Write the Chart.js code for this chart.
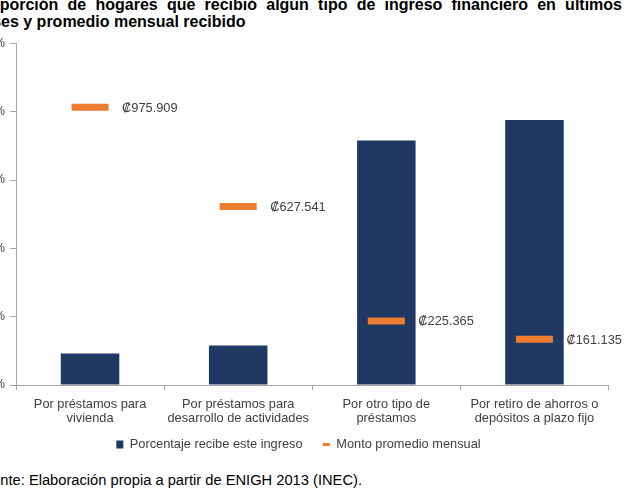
<!DOCTYPE html>
<html>
<head>
<meta charset="utf-8">
<script src="https://cdn.jsdelivr.net/npm/chart.js@4.4.0/dist/chart.umd.min.js"></script>
<style>
    html, body { margin: 0; padding: 0; background: #fff; }
    body { width: 626px; height: 491px; position: relative; overflow: hidden; font-family: "Liberation Sans", Arial, sans-serif; }
    .title { position: absolute; top: -4px; left: 0; width: 622px; font-weight: bold; font-size: 16px; line-height: 17px; color: #000; }
    .title div { white-space: nowrap; }
    .title .l1 { margin-left: -27px; width: 649px; text-align: justify; text-align-last: justify; white-space: normal; }
    .title .l2 { margin-left: -31px; }
    .source { position: absolute; top: 472px; left: -25px; font-size: 14.7px; color: #000; white-space: nowrap; }
    #wrap { position: absolute; top: 18px; left: -37px; width: 671px; height: 443px; }
</style>
</head>
<body>
<div class="title">
    <div class="l1">Proporción de hogares que recibió algún tipo de ingreso financiero en últimos</div>
    <div class="l2">meses y promedio mensual recibido</div>
</div>
<div id="wrap"><canvas id="chart"></canvas></div>
<div class="source">Fuente: Elaboración propia a partir de ENIGH 2013 (INEC).</div>

<script>
// Data
const categories = [
    ['Por préstamos para', 'vivienda'],
    ['Por préstamos para', 'desarrollo de actividades'],
    ['Por otro tipo de', 'préstamos'],
    ['Por retiro de ahorros o', 'depósitos a plazo fijo']
];
const porcentaje = [0.46, 0.58, 3.58, 3.88];     // % of households
const montoPromedio = [975909, 627541, 225365, 161135]; // colones
const yTicks = [0, 1, 2, 3, 4, 5];

const navy = '#1f3864';
const orange = '#ed7d31';
const textGray = '#404040';
const axisGray = '#a6a6a6';
const fontFamily = '"Liberation Sans", Arial, sans-serif';

const fmtColones = n => '₡' + String(n).replace(/\B(?=(\d{3})+(?!\d))/g, '.');

// Draws the "₡975.909" labels to the right of each orange marker
const montoLabels = {
    id: 'montoLabels',
    afterDatasetsDraw(chart) {
        const meta = chart.getDatasetMeta(1);
        const ctx = chart.ctx;
        ctx.save();
        ctx.font = '12.8px ' + fontFamily;
        ctx.fillStyle = textGray;
        ctx.textBaseline = 'middle';
        ctx.textAlign = 'left';
        meta.data.forEach((pt, i) => {
            ctx.fillText(fmtColones(montoPromedio[i]), pt.x + 32, pt.y + 1);
        });
        ctx.restore();
    }
};

new Chart(document.getElementById('chart'), {
    data: {
        labels: categories,
        datasets: [
            {
                type: 'bar',
                label: 'Porcentaje recibe este ingreso',
                data: porcentaje,
                backgroundColor: navy,
                borderWidth: 0,
                barPercentage: 0.395,
                categoryPercentage: 1,
                pointStyle: 'rect',
                yAxisID: 'y',
                order: 1
            },
            {
                type: 'line',
                label: 'Monto promedio mensual',
                data: montoPromedio,
                showLine: false,
                pointStyle: 'line',
                pointRadius: 18.5,
                pointBorderWidth: 7,
                borderColor: orange,
                backgroundColor: orange,
                yAxisID: 'y2',
                order: 0
            }
        ]
    },
    options: {
        responsive: true,
        maintainAspectRatio: false,
        animation: false,
        events: [],
        layout: { padding: 0 },
        plugins: {
            tooltip: { enabled: false },
            legend: {
                position: 'bottom',
                labels: {
                    usePointStyle: true,
                    boxHeight: 8,
                    pointStyleWidth: 7,
                    padding: 6,
                    color: textGray,
                    font: { size: 12.8, family: fontFamily },
                    generateLabels(chart) {
                        const items = Chart.defaults.plugins.legend.labels.generateLabels(chart)
                            .sort((a, b) => a.datasetIndex - b.datasetIndex);
                        items.forEach(it => {
                            if (it.datasetIndex === 0) {
                                it.lineWidth = 0;
                                it.fillStyle = navy;
                                it.text = it.text + '\u00a0\u00a0\u00a0\u00a0';
                            } else {
                                it.lineWidth = 3;
                                it.strokeStyle = orange;
                            }
                        });
                        return items;
                    }
                }
            }
        },
        scales: {
            x: {
                grid: { display: true, drawOnChartArea: false, tickLength: 5, color: axisGray, offset: true },
                border: { color: axisGray },
                ticks: {
                    color: textGray,
                    padding: 7,
                    maxRotation: 0,
                    autoSkip: false,
                    font: { size: 12.8, family: fontFamily, lineHeight: 1.1 }
                }
            },
            y: {
                min: yTicks[0],
                max: yTicks[yTicks.length - 1],
                afterBuildTicks(scale) { scale.ticks = yTicks.map(v => ({ value: v })); },
                afterFit(scale) { scale.width = 53; },
                grid: { display: true, drawOnChartArea: false, tickLength: 6, color: axisGray },
                border: { color: axisGray },
                ticks: {
                    color: textGray,
                    padding: 5,
                    font: { size: 12, family: fontFamily },
                    callback: v => v + '%'
                }
            },
            y2: {
                display: false,
                min: 0,
                max: 1200000
            }
        }
    },
    plugins: [montoLabels]
});
</script>
</body>
</html>
